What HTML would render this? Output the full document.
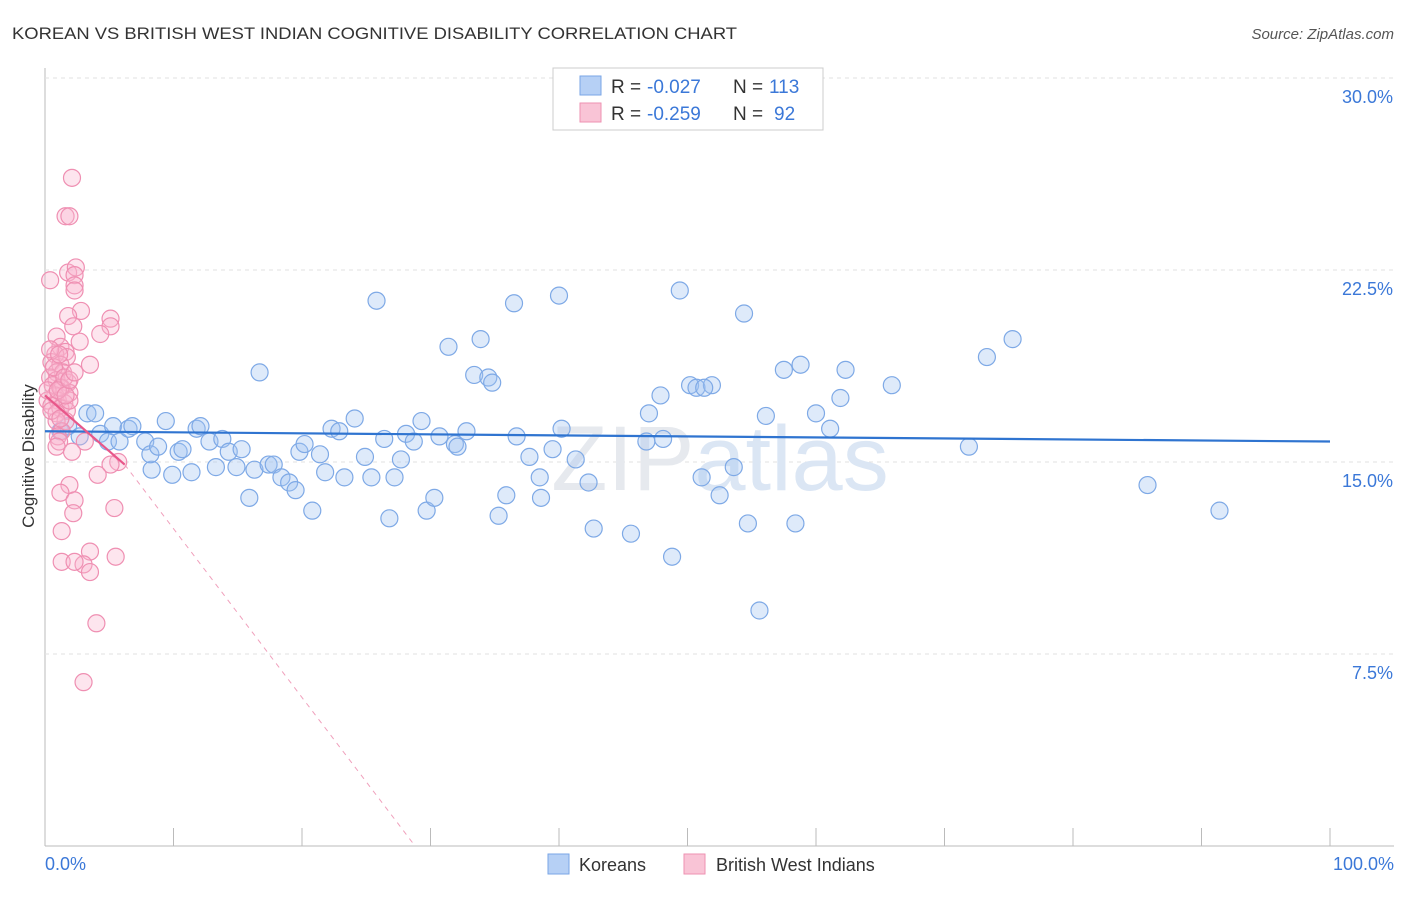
<!DOCTYPE html>
<html><head><meta charset="utf-8">
<style>
body{margin:0;background:#fff;font-family:"Liberation Sans",sans-serif;}
svg text{font-family:"Liberation Sans",sans-serif;}
</style></head>
<body>
<svg width="1406" height="892" xmlns="http://www.w3.org/2000/svg">
<text x="12" y="39" font-size="17" fill="#333" textLength="725" lengthAdjust="spacingAndGlyphs">KOREAN VS BRITISH WEST INDIAN COGNITIVE DISABILITY CORRELATION CHART</text>
<text x="1394" y="39" font-size="15" fill="#555" text-anchor="end" font-style="italic">Source: ZipAtlas.com</text>
<g id="grid"></g>
<text x="720" y="490" font-size="92" fill="#e6e9ee" text-anchor="middle" font-family="Liberation Serif">ZIP<tspan fill="#dbe6f4" font-family="Liberation Sans">atlas</tspan></text>
<g id="points"></g>
<g id="lines"></g>
<text x="34" y="456" font-size="17" fill="#333" text-anchor="middle" transform="rotate(-90 34 456)">Cognitive Disability</text>
<text x="45" y="870" font-size="18" fill="#3b78d8">0.0%</text>
<text x="1394" y="870" font-size="18" fill="#3b78d8" text-anchor="end">100.0%</text>
<g>
<rect x="553" y="68" width="270" height="62" fill="#fff" stroke="#ccc"/>
<rect x="580" y="76" width="21" height="19" fill="#b6d0f5" stroke="#7aa6e6"/>
<rect x="580" y="103" width="21" height="19" fill="#f9c4d6" stroke="#ee92b2"/>
<text x="611" y="93" font-size="19" fill="#333">R =</text>
<text x="647" y="93" font-size="19" fill="#3b78d8">-0.027</text>
<text x="733" y="93" font-size="19" fill="#333">N =</text>
<text x="769" y="93" font-size="19" fill="#3b78d8">113</text>
<text x="611" y="120" font-size="19" fill="#333">R =</text>
<text x="647" y="120" font-size="19" fill="#3b78d8">-0.259</text>
<text x="733" y="120" font-size="19" fill="#333">N =</text>
<text x="774" y="120" font-size="19" fill="#3b78d8">92</text>
</g>
<g>
<rect x="548" y="854" width="21" height="20" fill="#b6d0f5" stroke="#7aa6e6"/>
<text x="579" y="871" font-size="18" fill="#333">Koreans</text>
<rect x="684" y="854" width="21" height="20" fill="#f9c4d6" stroke="#ee92b2"/>
<text x="716" y="871" font-size="18" fill="#333">British West Indians</text>
</g>
</svg>
<script>
const yTicks=[7.5,15,22.5,30];
const yTickLabels=["7.5%","15.0%","22.5%","30.0%"];
const koreanX=[1.2,1.8,2.7,3.3,3.9,4.3,4.9,5.3,5.8,6.5,6.8,7.8,8.3,8.2,8.8,9.4,9.9,10.4,10.7,11.4,11.8,12.1,12.8,13.3,13.8,14.3,14.9,15.3,15.9,16.3,16.7,17.4,17.8,18.4,19.0,19.5,19.8,20.2,20.8,21.4,21.8,22.3,22.9,23.3,24.1,24.9,25.4,25.8,26.4,26.8,27.2,27.7,28.1,28.7,29.3,29.7,30.3,30.7,31.4,31.9,32.1,32.8,33.4,33.9,34.5,34.8,35.3,35.9,36.5,36.7,37.7,38.5,38.6,39.5,40.0,40.2,41.3,42.3,42.7,45.6,46.8,47.0,47.9,48.1,48.8,49.4,50.2,50.7,51.1,51.9,52.5,53.6,54.4,54.7,55.6,56.1,57.5,58.4,58.8,60.0,61.1,61.9,62.3,65.9,71.9,73.3,75.3,85.8,91.4,51.3];
const koreanY=[16.2,16.4,16.0,16.9,16.9,16.1,15.8,16.4,15.8,16.3,16.4,15.8,14.7,15.3,15.6,16.6,14.5,15.4,15.5,14.6,16.3,16.4,15.8,14.8,15.9,15.4,14.8,15.5,13.6,14.7,18.5,14.9,14.9,14.4,14.2,13.9,15.4,15.7,13.1,15.3,14.6,16.3,16.2,14.4,16.7,15.2,14.4,21.3,15.9,12.8,14.4,15.1,16.1,15.8,16.6,13.1,13.6,16.0,19.5,15.7,15.6,16.2,18.4,19.8,18.3,18.1,12.9,13.7,21.2,16.0,15.2,14.4,13.6,15.5,21.5,16.3,15.1,14.2,12.4,12.2,15.8,16.9,17.6,15.9,11.3,21.7,18.0,17.9,14.4,18.0,13.7,14.8,20.8,12.6,9.2,16.8,18.6,12.6,18.8,16.9,16.3,17.5,18.6,18.0,15.6,19.1,19.8,14.1,13.1,17.9];
const bwiX=[0.4,2.1,1.6,1.9,1.8,2.4,2.3,2.3,2.3,2.8,1.8,5.1,5.1,4.3,2.2,0.9,2.7,1.2,1.6,0.8,1.7,0.5,1.2,3.5,0.9,1.4,0.4,0.9,1.8,0.6,1.3,1.9,0.8,0.2,1.0,1.5,0.5,1.2,1.7,0.9,0.2,1.2,1.9,1.6,0.9,1.3,1.0,1.1,0.9,3.1,2.1,5.7,5.1,4.1,1.9,1.2,2.3,5.4,2.2,1.3,3.5,5.5,1.3,3.0,2.3,3.5,4.0,3.0,0.4,0.7,1.5,1.0,1.6,0.5,1.2,1.9,2.3,1.1];
const bwiY=[22.1,26.1,24.6,24.6,22.4,22.6,22.3,21.9,21.7,20.9,20.7,20.6,20.3,20.0,20.3,19.9,19.7,19.5,19.3,19.2,19.1,18.9,18.8,18.8,18.5,18.5,18.3,18.2,18.1,18.0,17.9,17.7,17.6,17.4,17.4,17.3,17.2,17.1,17.0,16.9,17.8,17.9,17.4,16.6,16.6,16.2,16.0,15.8,15.6,15.8,15.4,15.0,14.9,14.5,14.1,13.8,13.5,13.2,13.0,12.3,11.5,11.3,11.1,11.0,11.1,10.7,8.7,6.4,19.4,18.7,18.3,17.8,17.6,17.0,16.7,18.2,18.5,19.2];
const X=v=>45+v*12.85, Y=v=>846-v*25.6;
const NS="http://www.w3.org/2000/svg";
function mk(t,a,p){const e=document.createElementNS(NS,t);for(const k in a)e.setAttribute(k,a[k]);p.appendChild(e);return e;}
const grid=document.getElementById('grid');
const ax=mk('line',{x1:45,y1:68,x2:45,y2:846,stroke:'#bbb'},grid);


const bx=mk('line',{x1:45,y1:846,x2:1394,y2:846,stroke:'#bbb'},grid);


for(let i=0;i<=10;i++){const t=mk('line',{x1:X(i*10),y1:828,x2:X(i*10),y2:846,stroke:'#bbb'},grid);

}
yTicks.forEach((v,i)=>{const g=mk('line',{x1:45,y1:Y(v),x2:1394,y2:Y(v),stroke:'#e2e2e2','stroke-dasharray':'4,4'},grid);


const t=mk('text',{x:1393,y:Y(v)+25,'font-size':18,fill:'#3b78d8','text-anchor':'end'},grid);t.textContent=yTickLabels[i];

});
const pts=document.getElementById('points');
koreanX.forEach((x,i)=>{if(koreanY[i]===undefined)return;const c=mk('circle',{cx:X(x),cy:Y(koreanY[i]),r:8.5,fill:'rgba(160,194,240,0.35)',stroke:'#7ea9e6','stroke-width':1.2},pts);

});
bwiX.forEach((x,i)=>{if(bwiY[i]===undefined)return;const c=mk('circle',{cx:X(x),cy:Y(bwiY[i]),r:8.5,fill:'rgba(248,180,205,0.35)',stroke:'#ef8fb2','stroke-width':1.2},pts);

});
const ln=document.getElementById('lines');
const l1=mk('line',{x1:X(0),y1:Y(16.2),x2:X(100),y2:Y(15.8),stroke:'#2f74d0','stroke-width':2.2},ln);


const l2=mk('line',{x1:X(0),y1:Y(17.6),x2:X(6.2),y2:Y(14.9),stroke:'#e8578a','stroke-width':2.2},ln);


const l3=mk('line',{x1:X(6.2),y1:Y(14.9),x2:X(28.8),y2:Y(0),stroke:'#f0a0bc','stroke-width':1,'stroke-dasharray':'5,5'},ln);


</script>
</body></html>
